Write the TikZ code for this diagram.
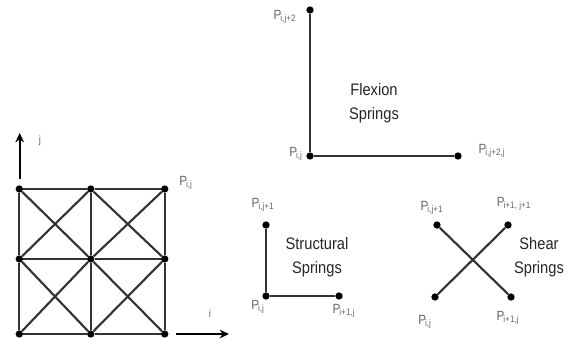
\documentclass[tikz,border=0pt]{standalone}
\usepackage{fontspec}
\setmainfont[FakeStretch=0.88]{Liberation Sans}
\usetikzlibrary{arrows.meta}
\definecolor{LabelGray}{gray}{0.4}
\definecolor{SpringGray}{gray}{0.2}
\tikzset{
    mass/.style={circle,fill=black,inner sep=0pt,minimum size=5.5pt},
    spring/.style={draw=SpringGray,line width=1.6pt},
    axisarrow/.style={draw=black,line width=1.6pt,-{Stealth[length=7pt,width=6.5pt]}},
    pointlabel/.style={text=LabelGray,font=\fontsize{10}{12}\selectfont,inner sep=0pt},
    springname/.style={align=center,text=black!85,font=\fontsize{12.5}{18}\selectfont,inner sep=0pt},
}
\newcommand\PLabel[1]{P\textsubscript{\kern-0.8pt#1}}
\begin{document}
\begin{tikzpicture}[x=0.75pt,y=-0.75pt]
    \useasboundingbox (0,0) rectangle (573,340);
    % cloth grid
    \foreach \ix/\x in {0/19.3,1/90.8,2/164.7} {
        \foreach \iy/\y in {0/334,1/259,2/189} {
            \node[mass] (G\ix\iy) at (\x,\y) {};
        }
    }
    \foreach \a/\b in {0/1,1/2} {
        \foreach \k in {0,1,2} {
            \draw[spring] (G\a\k) -- (G\b\k);
            \draw[spring] (G\k\a) -- (G\k\b);
        }
        \foreach \c/\d in {0/1,1/2} {
            \draw[spring] (G\a\c) -- (G\b\d);
            \draw[spring] (G\a\d) -- (G\b\c);
        }
    }
    \coordinate (JStart) at (19.7,179);
    \coordinate (JEnd) at (19.7,133);
    \coordinate (IStart) at (176,334);
    \coordinate (IEnd) at (229,334);
    \draw[axisarrow] (JStart) -- (JEnd);
    \draw[axisarrow] (IStart) -- (IEnd);
    \node[pointlabel,font=\fontsize{8}{10}\selectfont] (jlabel) at (40,141) {j};
    \node[pointlabel,font=\fontsize{8}{10}\selectfont] (ilabel) at (210,314) {i};
    \node[pointlabel] (gridlabel) at (186,183) {\PLabel{i,j}};
    % flexion
    \node[mass] (F0) at (310,156) {};
    \node[mass] (F1) at (310,10) {};
    \node[mass] (F2) at (458,156) {};
    \draw[spring] (F1) -- (F0) -- (F2);
    \node[pointlabel] (flexa) at (285,17) {\PLabel{i,j+2}};
    \node[pointlabel] (flexb) at (296,154) {\PLabel{i,j}};
    \node[pointlabel] (flexc) at (492,151) {\PLabel{i,j+2,j}};
    \node[springname] (flexname) at (374,103) {Flexion\\Springs};
    % structural
    \node[mass] (S0) at (266,296) {};
    \node[mass] (S1) at (266,225) {};
    \node[mass] (S2) at (339,296) {};
    \draw[spring] (S1) -- (S0) -- (S2);
    \node[pointlabel] (structa) at (263,205) {\PLabel{i,j+1}};
    \node[pointlabel] (structb) at (258,307) {\PLabel{i,j}};
    \node[pointlabel] (structc) at (344,311) {\PLabel{i+1,j}};
    \node[springname] (structname) at (317,257) {Structural\\Springs};
    % shear
    \node[mass] (H0) at (435,297) {};
    \node[mass] (H1) at (437,225) {};
    \node[mass] (H2) at (508,225) {};
    \node[mass] (H3) at (511,297) {};
    \draw[spring] (H0) -- (H2);
    \draw[spring] (H1) -- (H3);
    \node[pointlabel] (sheara) at (432,208) {\PLabel{i,j+1}};
    \node[pointlabel] (shearb) at (514,204) {\PLabel{i+1, j+1}};
    \node[pointlabel] (shearc) at (425,322) {\PLabel{i,j}};
    \node[pointlabel] (sheard) at (508,318) {\PLabel{i+1,j}};
    \node[springname] (shearname) at (539,257) {Shear\\Springs};
\end{tikzpicture}
\end{document}
